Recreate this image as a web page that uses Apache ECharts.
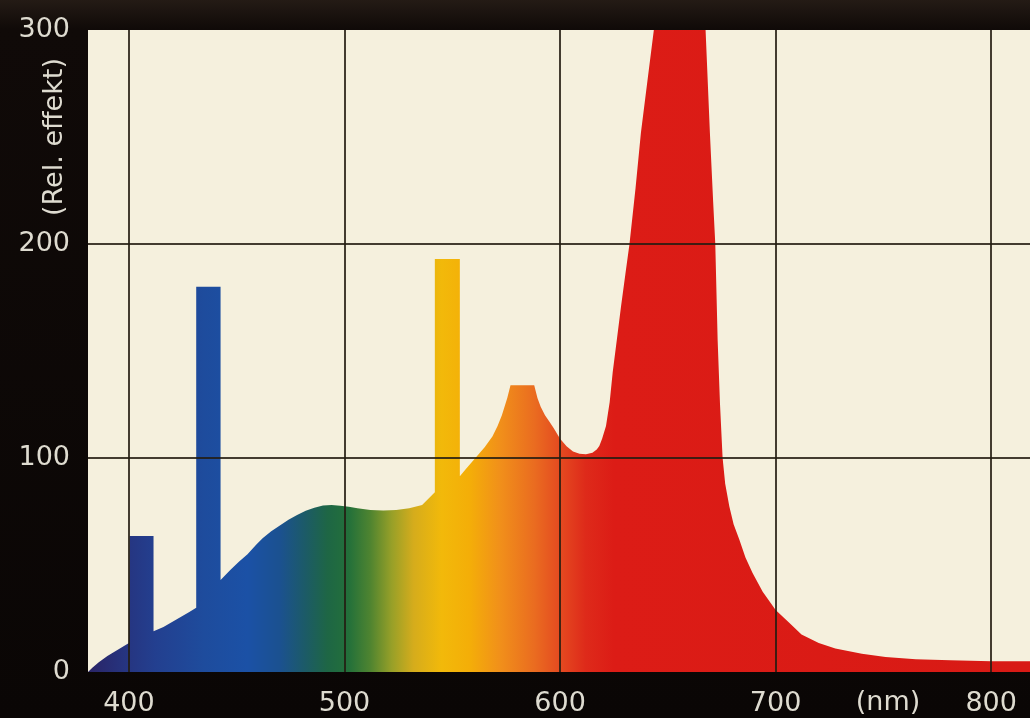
<!DOCTYPE html>
<html>
<head>
<meta charset="utf-8">
<script src="https://cdn.jsdelivr.net/npm/echarts@6/dist/echarts.min.js"></script>
<style>
html,body{margin:0;padding:0;background:#0a0605;}
#chart{width:1030px;height:718px;}
</style>
</head>
<body>
<div id="chart"></div>
<script>
// Wavelength (nm) and relative effect, traced along the outline of the spectrum
var wavelengths = [381,383,386,390,395,400,400.3,411.4,411.4,416,422,428,431.2,431.2,442.5,442.5,447,451,455,459,462,466,470,474,478,482,486,490,494,498,502,506,512,518,524,530,536,541.9,541.9,553.5,553.5,556,559,562,565,568.6,571,573,575.5,577,588,589.5,591,593,595,597,600,603,606,609,612,615,617,618.2,619.5,621.3,623,624.4,626.3,628.3,630.3,632.2,635,637.5,640.5,643.5,667.5,669.5,671,672,673.1,674.2,675.4,676.6,678.5,680.5,683.1,686,689.3,694,700,706.3,712,720,727.7,740,751,765,781,800,818];
var intensity   = [0,2,4.5,7.5,10.5,13.5,63.5,63.5,19,21,24.5,28,30,180,180,43,47.7,51.5,55,59.5,62.5,65.8,68.5,71.2,73.4,75.3,76.8,77.8,78,77.7,77.2,76.5,75.7,75.5,75.7,76.5,78,84,193,193,91.5,94.5,98,101.5,105,110,115,120,128,134,134,128,124,120,117,114,109,105.5,103,102,101.8,102.5,104,105.6,109,115,126,140,155,171,186,200,226,252,276,300,300,252,220,200,155,125,100,88,77.5,69,62,53.5,46.3,37.5,29,23,17.5,13.5,11,8.5,7,6,5.5,5,5];
var xTickValues = [400,500,600,700,800];
var yTickValues = [0,100,200,300];
var xGridValues = [400,500,600,700,800];
var yGridValues = [100,200];

var xMin = 381, xMax = 818;
var gradNm     = [381,398,412,435,455,470,482,492,502,512,522,532,545,558,572,588,600,612,625,818];
var gradColors = ['#2a2466','#26347f','#233f8f','#1e4c9d','#1b51a6','#1b5190','#1c5b66','#1e6645','#23703a','#4f8430','#98a028','#d5ac1c','#f2b90a','#f4ae08','#f1901a','#ea6c20','#e44a20','#de2a1a','#dc1c16','#d81a15'];
var stops = gradNm.map(function(n,i){return {offset:(n-xMin)/(xMax-xMin), color:gradColors[i]};});

var data = wavelengths.map(function(w,i){return [w,intensity[i]];});
var labelColor = '#dedbd0';
var font = 'DejaVu Sans';
var gridColor = 'rgba(35,28,18,0.85)';

var chart = echarts.init(document.getElementById('chart'));
chart.setOption({
  animation:false,
  backgroundColor:{type:'linear',x:0,y:0,x2:0,y2:1,colorStops:[{offset:0,color:'#241b15'},{offset:0.04,color:'#100a08'},{offset:1,color:'#0a0605'}]},
  grid:{left:88,right:0,top:30,bottom:46,show:true,backgroundColor:'#f5f0dd',borderWidth:0},
  xAxis:{
    type:'value',min:xMin,max:xMax,
    axisLine:{show:false},axisTick:{show:false},splitLine:{show:false},
    axisLabel:{customValues:xTickValues,color:labelColor,fontSize:27,fontFamily:font,margin:18}
  },
  yAxis:{
    type:'value',min:0,max:300,interval:100,
    axisLine:{show:false},axisTick:{show:false},splitLine:{show:false},
    axisLabel:{color:labelColor,fontSize:27,fontFamily:font,margin:18}
  },
  graphic:[
    {type:'text',x:888,y:703,style:{text:'(nm)',fill:labelColor,font:'27px "DejaVu Sans"',align:'center',verticalAlign:'middle'}},
    {type:'text',x:55,y:137,rotation:Math.PI/2,style:{text:'(Rel. effekt)',fill:labelColor,font:'27px "DejaVu Sans"',align:'center',verticalAlign:'middle'}}
  ],
  series:[{
    type:'line',data:data,showSymbol:false,symbol:'none',
    lineStyle:{width:0},
    areaStyle:{opacity:1,color:{type:'linear',x:0,y:0,x2:1,y2:0,colorStops:stops}},
    markLine:{
      silent:true,symbol:['none','none'],label:{show:false},
      lineStyle:{color:gridColor,width:2,type:'solid'},
      emphasis:{disabled:true},
      data:xGridValues.map(function(v){return {xAxis:v};}).concat(yGridValues.map(function(v){return {yAxis:v};}))
    }
  }]
});
</script>
</body>
</html>
